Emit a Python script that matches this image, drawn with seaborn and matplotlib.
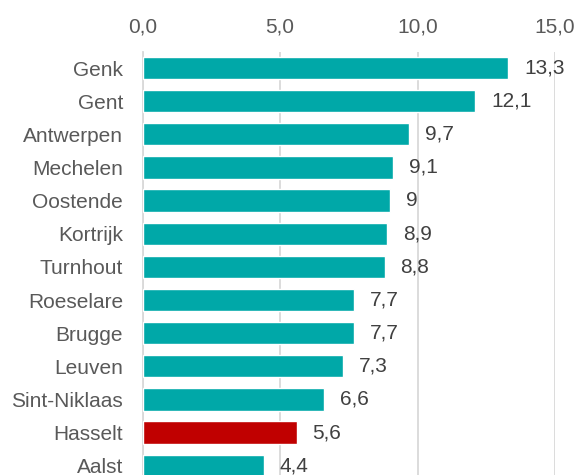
import matplotlib
matplotlib.use("Agg")
import matplotlib.pyplot as plt
import seaborn as sns
import pandas as pd

cities = ["Genk", "Gent", "Antwerpen", "Mechelen", "Oostende", "Kortrijk",
          "Turnhout", "Roeselare", "Brugge", "Leuven", "Sint-Niklaas",
          "Hasselt", "Aalst"]
values = [13.3, 12.1, 9.7, 9.1, 9, 8.9, 8.8, 7.7, 7.7, 7.3, 6.6, 5.6, 4.4]
highlight = "Hasselt"
x_ticks = [0, 5, 10, 15]

TEAL = "#00A8A8"
RED = "#C00000"

sns.set_theme(style="white")
plt.rcParams["font.family"] = ["Liberation Sans", "DejaVu Sans"]

df = pd.DataFrame({"city": cities, "value": values})
palette = {c: (RED if c == highlight else TEAL) for c in cities}

fig = plt.figure(figsize=(5.78, 4.75), dpi=100)
ax = fig.add_axes([142.5 / 578, 0.0, 412.5 / 578, 1 - 52 / 475])

sns.barplot(data=df, x="value", y="city", hue="city", palette=palette,
            legend=False, width=0.67, saturation=1, ax=ax, zorder=3)

ax.set_xlim(0, 15)
ax.set_ylim(12.28, -0.483)
ax.set_xticks(x_ticks)
ax.set_xticklabels([f"{t:.1f}".replace(".", ",") for t in x_ticks])
ax.xaxis.tick_top()
ax.tick_params(axis="x", length=0, pad=11, labelsize=15, colors="#595959")
ax.tick_params(axis="y", length=0, pad=14, labelsize=15, colors="#595959")
ax.set_xlabel("")
ax.set_ylabel("")

ax.grid(axis="x", color="#D9D9D9", linewidth=1.3, zorder=0)
ax.grid(axis="y", visible=False)
for side in ["top", "right", "bottom"]:
    ax.spines[side].set_visible(False)
ax.spines["left"].set_color("#D9D9D9")
ax.spines["left"].set_linewidth(1.3)

for container in ax.containers:
    ax.bar_label(container,
                 labels=[f"{v:g}".replace(".", ",") for v in container.datavalues],
                 padding=11.5, fontsize=15, color="#404040")

fig.savefig("out.png", dpi=100)
